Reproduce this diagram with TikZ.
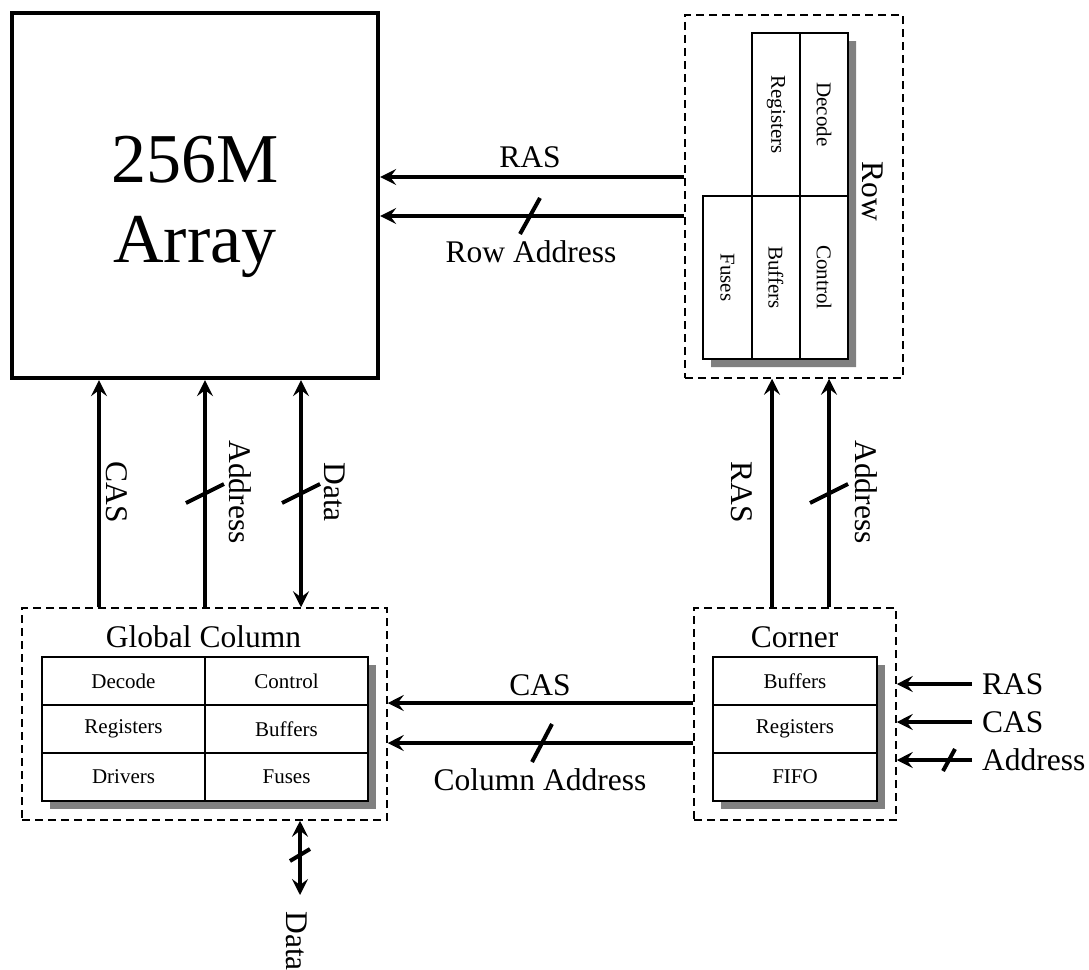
\documentclass[tikz,border=0pt]{standalone}
\usepackage{fontspec}
\setmainfont{Liberation Serif}
\usetikzlibrary{arrows.meta,calc}
\begin{document}
\begin{tikzpicture}[x=1pt,y=-1pt,
  arr/.style={line width=4pt,-{Stealth[length=16pt,width=16pt,inset=6pt]}},
  darr/.style={line width=4pt,{Stealth[length=16pt,width=16pt,inset=6pt]}-{Stealth[length=16pt,width=16pt,inset=6pt]}},
  slash/.style={line width=4pt},
  dbox/.style={draw,dash pattern=on 8pt off 5pt,line width=1.5pt,inner sep=0pt},
  cell/.style={draw,line width=2pt,fill=white,inner sep=0pt,font=\fontsize{21}{25}\selectfont},
  lbl/.style={font=\fontsize{31.5}{38}\selectfont,inner sep=0pt},
  shadowfill/.style={fill=black!50,draw=none}]
\useasboundingbox (0,0) rectangle (1089,969);

% 256M Array
\node[draw,line width=4.3pt,minimum width=366pt,minimum height=365pt,inner sep=0pt] (array) at (195,195.5) {};
\node[font=\fontsize{70}{80}\selectfont,anchor=base,inner sep=0pt] (t256) at (195,182) {256M};
\node[font=\fontsize{70}{80}\selectfont,anchor=base,inner sep=0pt] (tarr) at (195,262) {Array};

% Row box
\node[dbox,minimum width=218pt,minimum height=363pt] (rowbox) at (794,196.5) {};
\fill[shadowfill] (760,41) -- (856,41) -- (856,367) -- (711,367) -- (711,204) -- (760,204) -- cycle;
\node[cell,rotate=-90,minimum width=163pt,minimum height=48pt] (rreg) at (776,114.5) {Registers};
\node[cell,rotate=-90,minimum width=163pt,minimum height=48pt] (rdec) at (824,114.5) {Decode};
\node[cell,rotate=-90,minimum width=163pt,minimum height=49pt] (rfus) at (727.5,277.5) {Fuses};
\node[cell,rotate=-90,minimum width=163pt,minimum height=48pt] (rbuf) at (776,277.5) {Buffers};
\node[cell,rotate=-90,minimum width=163pt,minimum height=48pt] (rctl) at (824,277.5) {Control};
\node[lbl,rotate=-90] (rowlbl) at (873,191) {Row};

% Global Column box
\node[dbox,minimum width=365pt,minimum height=212pt] (gcol) at (204.5,714) {};
\node[lbl,anchor=base] (gcoltitle) at (203.5,647) {Global Column};
\fill[shadowfill] (50,665) rectangle (376,809);
\node[cell,minimum width=163pt,minimum height=48pt] (gdec) at (123.5,681) {Decode};
\node[cell,minimum width=163pt,minimum height=48pt] (gctl) at (286.5,681) {Control};
\node[cell,minimum width=163pt,minimum height=48pt] (greg) at (123.5,729) {Registers};
\node[cell,minimum width=163pt,minimum height=48pt] (gbuf) at (286.5,729) {Buffers};
\node[cell,minimum width=163pt,minimum height=48pt] (gdrv) at (123.5,777) {Drivers};
\node[cell,minimum width=163pt,minimum height=48pt] (gfus) at (286.5,777) {Fuses};

% Corner box
\node[dbox,minimum width=202pt,minimum height=212pt] (corner) at (795,714) {};
\node[lbl,anchor=base] (cornertitle) at (794.5,647) {Corner};
\fill[shadowfill] (721,665) rectangle (885,809);
\node[cell,minimum width=164pt,minimum height=48pt] (cbuf) at (795,681) {Buffers};
\node[cell,minimum width=164pt,minimum height=48pt] (creg) at (795,729) {Registers};
\node[cell,minimum width=164pt,minimum height=48pt] (cfifo) at (795,777) {FIFO};

% Row -> Array
\draw[arr] (rowbox.west |- 0,177) -- (array.east |- 0,177);
\draw[arr] (rowbox.west |- 0,216) -- (array.east |- 0,216);
\draw[slash] (520,234) -- (540,198);
\node[lbl,anchor=base] (lras) at (530,167) {RAS};
\node[lbl,anchor=base] (lrowaddr) at (531,262) {Row Address};

% Global Column -> Array
\draw[arr] (gcol.north -| 99,0) -- (array.south -| 99,0);
\draw[arr] (gcol.north -| 205,0) -- (array.south -| 205,0);
\draw[slash] (186,503) -- (224,484);
\draw[darr] (gcol.north -| 301,0) -- (array.south -| 301,0);
\draw[slash] (282,503) -- (320,484);
\node[lbl,rotate=-90] (lcas1) at (117,492) {CAS};
\node[lbl,rotate=-90] (laddr1) at (240,492) {Address};
\node[lbl,rotate=-90] (ldata1) at (335,492) {Data};

% Corner -> Row
\draw[arr] (corner.north -| 772,0) -- (rowbox.south -| 772,0);
\draw[arr] (corner.north -| 829,0) -- (rowbox.south -| 829,0);
\draw[slash] (810,503) -- (848,484);
\node[lbl,rotate=-90] (lras2) at (742,492) {RAS};
\node[lbl,rotate=-90] (laddr2) at (866,492) {Address};

% Corner -> Global Column
\draw[arr] (corner.west |- 0,703) -- (gcol.east |- 0,703);
\draw[arr] (corner.west |- 0,743) -- (gcol.east |- 0,743);
\draw[slash] (532,762) -- (552,724);
\node[lbl,anchor=base] (lcas2) at (540,695) {CAS};
\node[lbl,anchor=base] (lcoladdr) at (540,790) {Column Address};

% External inputs to Corner
\coordinate (inras) at (972,684);
\coordinate (incas) at (972,722);
\coordinate (inaddr) at (972,760);
\draw[arr] (inras) -- (corner.east |- inras);
\draw[arr] (incas) -- (corner.east |- incas);
\draw[arr] (inaddr) -- (corner.east |- inaddr);
\draw[slash] (943,771) -- (955,749);
\node[lbl,anchor=west] (lras3) at (982,684) {RAS};
\node[lbl,anchor=west] (lcas3) at (982,722) {CAS};
\node[lbl,anchor=west] (laddr3) at (982,760) {Address};

% Data out of Global Column
\coordinate (dataend) at (300,895);
\draw[darr] (gcol.south -| dataend) -- (dataend);
\draw[slash] (290,861) -- (310,849);
\node[lbl,rotate=-90] (ldata2) at (297,941) {Data};
\end{tikzpicture}
\end{document}
